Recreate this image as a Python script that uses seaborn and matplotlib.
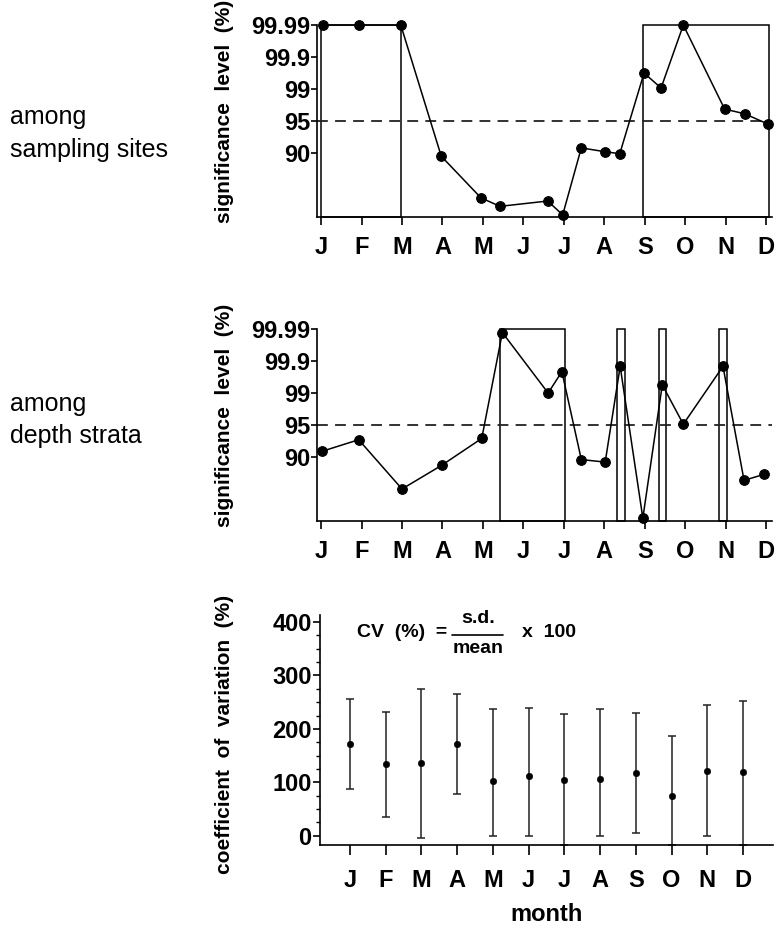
import numpy as np
import matplotlib
matplotlib.use("Agg")
import matplotlib.pyplot as plt
from matplotlib.ticker import FixedLocator, AutoMinorLocator, NullLocator
import seaborn as sns

sns.set_style("ticks")
plt.rcParams['font.family'] = ['Liberation Sans', 'DejaVu Sans']
plt.rcParams['text.color'] = 'black'
plt.rcParams['axes.labelcolor'] = 'black'
plt.rcParams['xtick.color'] = 'black'
plt.rcParams['ytick.color'] = 'black'
plt.rcParams['axes.edgecolor'] = 'black'

# month labels along the x axis
months = ['J', 'F', 'M', 'A', 'M', 'J', 'J', 'A', 'S', 'O', 'N', 'D']

# significance level tick values (%)
sig_ticks = [90, 95, 99, 99.9, 99.99]
sig_labels = ['90', '95', '99', '99.9', '99.99']

# among sampling sites: sampling date (month index) and significance level (%)
sites_x = [0.05, 0.95, 1.97, 2.97, 3.95, 4.42, 5.6, 5.97, 6.43, 7.02, 7.38,
           7.98, 8.4, 8.95, 9.97, 10.47, 11.05]
sites_sig = [99.99, 99.99, 99.99, 89, 68, 60, 65, 52, 90.8, 90.2, 89.8,
             99.45, 99.03, 99.99, 96.5, 95.9, 94.5]
sites_box_start = [0.0, 7.95]
sites_box_end = [1.98, 11.06]

# among depth strata
depth_x = [0.03, 0.93, 2.0, 2.98, 3.97, 4.48, 5.61, 5.95, 6.43, 7.02, 7.39,
           7.95, 8.43, 8.95, 9.93, 10.45, 10.95]
depth_sig = [90.9, 92.7, 80, 87.4, 92.9, 99.98, 99.0, 99.6, 89.2, 88.4, 99.75,
             52.7, 99.23, 95.1, 99.75, 82.7, 84.6]
depth_box_start = [4.41, 7.30, 8.34, 9.82]
depth_box_end = [6.02, 7.50, 8.53, 10.03]

# coefficient of variation (%) per month: mean, lower and upper end of bar
cv_mean = [172, 134, 136, 172, 103, 111, 105, 107, 117, 74, 122, 119]
cv_lower = [87, 36, -4, 79, -1, -1, -17, -1, 6, -17, -1, -17]
cv_upper = [256, 231, 275, 266, 238, 239, 227, 238, 229, 186, 244, 253]

# evenly spaced significance axis (levels below 90 are unlabelled)
levels = [50, 80, 90, 95, 99, 99.9, 99.99]
level_pos = [-2, -1, 0, 1, 2, 3, 4]


def fwd(v):
    return np.interp(v, levels, level_pos)


def inv(u):
    return np.interp(u, level_pos, levels)


fig = plt.figure(figsize=(7.76, 9.35), dpi=100)
ax1 = fig.add_axes([0.4085, 0.7679, 0.5863, 0.2053])
ax2 = fig.add_axes([0.4085, 0.4428, 0.5863, 0.2053])
ax3 = fig.add_axes([0.4124, 0.0963, 0.5838, 0.2460])

big = 17
lw = 1.2


def sig_panel(ax, xs, sig, b_start, b_end, side_text, ty):
    ax.set_yscale('function', functions=(fwd, inv))
    # boxes marking significant periods
    widths = np.array(b_end) - np.array(b_start)
    ax.bar(b_start, 99.99 - 50, width=widths, bottom=50, align='edge',
           facecolor='none', edgecolor='black', linewidth=1.1, clip_on=False)
    ax.axhline(95, color='#222222', lw=1.3, ls=(0, (6, 4)))
    sns.lineplot(x=xs, y=sig, ax=ax, sort=False, color='black', lw=1.1,
                 marker='o', markersize=7, markeredgecolor='black',
                 markerfacecolor='black', clip_on=False)
    ax.set_xlim(-0.1, 11.14)
    ax.set_ylim(50, 99.99)
    ax.yaxis.set_major_locator(FixedLocator(sig_ticks))
    ax.yaxis.set_minor_locator(NullLocator())
    ax.set_yticklabels(sig_labels, fontsize=big, fontweight='bold')
    ax.set_xticks(range(12))
    ax.set_xticklabels(months, fontsize=big, fontweight='bold')
    ax.tick_params(axis='x', length=6, width=lw, pad=8)
    ax.tick_params(axis='y', length=4, width=lw, pad=1)
    sns.despine(ax=ax)
    for s in ['left', 'bottom']:
        ax.spines[s].set_linewidth(lw)
    ax.set_ylabel('significance  level  (%)', fontsize=15, fontweight='bold')
    ax.yaxis.set_label_coords(-0.182, 0.55)
    fig.text(10 / 776, ty, side_text, fontsize=18, va='center', ha='left',
             linespacing=1.45)


sig_panel(ax1, sites_x, sites_sig, sites_box_start, sites_box_end,
          'among\nsampling sites', 0.857)
sig_panel(ax2, depth_x, depth_sig, depth_box_start, depth_box_end,
          'among\ndepth strata', 0.551)

# coefficient of variation panel
mx = np.arange(12)
mean = np.array(cv_mean)
ax3.errorbar(mx, mean, yerr=[mean - np.array(cv_lower), np.array(cv_upper) - mean],
             fmt='none', ecolor='#222222', elinewidth=1.1, capsize=3, capthick=1.1)
sns.scatterplot(x=mx, y=cv_mean, ax=ax3, color='black', s=22, edgecolor='black',
                zorder=3)
ax3.set_xlim(-0.84, 11.84)
ax3.set_ylim(-17, 413)
ax3.set_yticks([0, 100, 200, 300, 400])
ax3.yaxis.set_minor_locator(AutoMinorLocator(4))
ax3.set_xticks(range(12))
ax3.set_xticklabels(months, fontsize=big, fontweight='bold')
for t in ax3.get_yticklabels():
    t.set_fontsize(big)
    t.set_fontweight('bold')
ax3.tick_params(axis='x', length=7, width=lw, pad=10)
ax3.tick_params(axis='y', which='major', length=5, width=lw, pad=1)
ax3.tick_params(axis='y', which='minor', length=3, width=1)
sns.despine(ax=ax3)
for s in ['left', 'bottom']:
    ax3.spines[s].set_linewidth(lw)
ax3.set_ylabel('coefficient  of  variation  (%)', fontsize=15, fontweight='bold')
ax3.yaxis.set_label_coords(-0.19, 0.48)
ax3.set_xlabel('month', fontsize=big, fontweight='bold', labelpad=8)

# formula
ax3.text(0.082, 0.924, 'CV  (%)  =', transform=ax3.transAxes, fontsize=14,
         fontweight='bold', va='center', ha='left')
ax3.plot([0.292, 0.404], [0.915, 0.915], transform=ax3.transAxes, color='black',
         lw=1.2, clip_on=False)
ax3.text(0.348, 0.985, 's.d.', transform=ax3.transAxes, fontsize=14,
         fontweight='bold', va='center', ha='center')
ax3.text(0.348, 0.852, 'mean', transform=ax3.transAxes, fontsize=14,
         fontweight='bold', va='center', ha='center')
ax3.text(0.446, 0.924, 'x  100', transform=ax3.transAxes, fontsize=14,
         fontweight='bold', va='center', ha='left')

fig.savefig('out.png', dpi=100)
